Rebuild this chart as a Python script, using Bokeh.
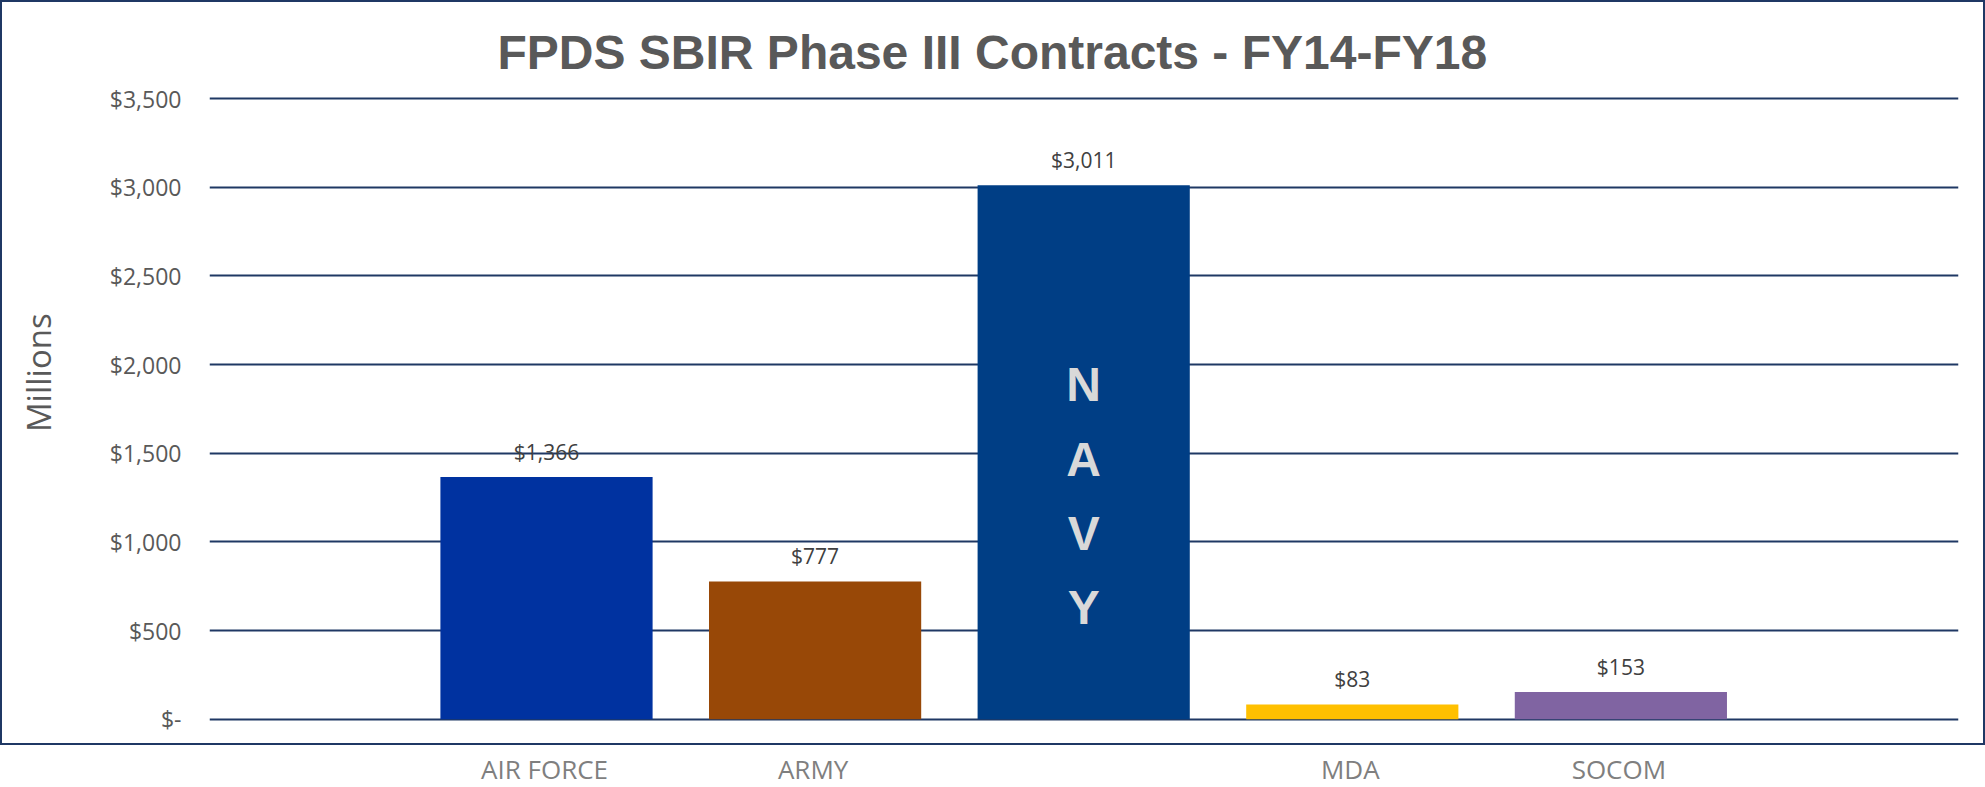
from bokeh.plotting import figure
from bokeh.models import Range1d, FixedTicker, NumeralTickFormatter, ColumnDataSource, LinearAxis
from bokeh.layouts import column
from bokeh.core.properties import value
from bokeh.embed import file_html
from bokeh.resources import INLINE

# ---- data ----
categories = ["AIR FORCE", "ARMY", "NAVY", "MDA", "SOCOM"]
amounts = [1366, 777, 3011, 83, 153]
bar_colors = ["#0032A0", "#984807", "#003E85", "#FFC000", "#8064A2"]
y_ticks = [0, 500, 1000, 1500, 2000, 2500, 3000, 3500]
title_text = "FPDS SBIR Phase III Contracts - FY14-FY18"
y_label = "Millions"
inside_label_category = "NAVY"

xs = list(range(len(categories)))
src = ColumnDataSource(dict(
    x=xs, top=amounts, color=bar_colors,
    label=["${:,}".format(v) for v in amounts],
))

BORDER = 2
W_OUT = 1985
W, H = W_OUT - 2 * BORDER, 741
ML, MR, MT, MB = 205, 27, 86, 22
X0, X1 = -1.2547, 5.257
Y0, Y1 = -35.5, 3556.4
XR = Range1d(X0, X1)

p = figure(width=W, height=H, output_backend="svg", toolbar_location=None,
           x_range=XR, y_range=Range1d(Y0, Y1),
           min_border_left=ML, min_border_right=MR, min_border_top=MT, min_border_bottom=MB,
           title=title_text)
p.background_fill_color = "white"
p.border_fill_color = "white"
p.outline_line_color = None
p.styles = {"border": f"{BORDER}px solid #1F3864", "box-sizing": "content-box"}

# title
p.title.text_font = "Liberation Sans"
p.title.text_font_size = "48px"
p.title.text_font_style = "bold"
p.title.text_color = "#595959"
p.title.align = "left"
p.title.offset = 288
p.title.standoff = 19

# grid
p.xgrid.grid_line_color = None
p.ygrid.ticker = FixedTicker(ticks=y_ticks)
p.ygrid.grid_line_color = "#1F3864"
p.ygrid.grid_line_width = 2

# y axis (tick labels)
ya = p.yaxis[0]
ya.ticker = FixedTicker(ticks=y_ticks)
ya.formatter = NumeralTickFormatter(format="$0,0")
ya.major_label_overrides = {0: "$-"}
ya.axis_line_color = None
ya.major_tick_line_color = None
ya.minor_tick_line_color = None
ya.major_tick_out = 0
ya.minor_tick_out = 0
ya.major_label_text_font = "Open Sans"
ya.major_label_text_font_size = "23px"
ya.major_label_text_color = "#595959"
ya.major_label_standoff = 28

# y axis title on a tick-less outer axis; leading no-break spaces lift it
# above the frame centre, as in the reference
p.extra_y_ranges = {"ylabel": Range1d(0, 1)}
lab_axis = LinearAxis(y_range_name="ylabel", ticker=FixedTicker(ticks=[]),
                      axis_label="\u00a0" * 8 + y_label)
lab_axis.axis_line_color = None
lab_axis.major_tick_line_color = None
lab_axis.minor_tick_line_color = None
lab_axis.major_tick_out = 0
lab_axis.minor_tick_out = 0
lab_axis.major_label_text_font_size = "0px"
lab_axis.axis_label_text_font = "Open Sans"
lab_axis.axis_label_text_font_size = "33px"
lab_axis.axis_label_text_font_style = "normal"
lab_axis.axis_label_text_color = "#595959"
lab_axis.axis_label_standoff = 46
p.add_layout(lab_axis, "left")

p.xaxis.visible = False

# bars
p.vbar(x="x", top="top", width=0.79, bottom=0, color="color", line_color=None, source=src)

# value labels
p.text(x="x", y="top", text="label", source=src, text_align="center", text_baseline="alphabetic",
       y_offset=-25, text_font=value("Open Sans"), text_font_size="21px", text_color="#404040")

# vertical category label inside the tall bar
ni = categories.index(inside_label_category)
p.text(x=[xs[ni]], y=[amounts[ni] * 0.4175], text=["\n".join(inside_label_category)],
       text_align="center", text_baseline="middle", text_line_height=1.405,
       text_font=value("Liberation Sans"), text_font_style="bold", text_font_size="48px",
       text_color="#D9D9D9")

# category labels below the bordered chart box
p2 = figure(width=W_OUT, height=787 - (H + 2 * BORDER), output_backend="svg", toolbar_location=None,
            x_range=XR, y_range=Range1d(0, 1), x_axis_location="above",
            min_border_left=ML + BORDER, min_border_right=MR + BORDER,
            min_border_top=41, min_border_bottom=0)
p2.outline_line_color = None
p2.grid.grid_line_color = None
p2.yaxis.visible = False
p2.border_fill_color = "white"
p2.background_fill_color = "white"
xa = p2.xaxis[0]
xa.ticker = FixedTicker(ticks=xs)
xa.major_label_overrides = {i: ("" if c == inside_label_category else c) for i, c in zip(xs, categories)}
xa.axis_line_color = None
xa.major_tick_line_color = None
xa.minor_tick_line_color = None
xa.major_tick_out = 0
xa.major_tick_in = 0
xa.major_label_text_font = "Open Sans"
xa.major_label_text_font_size = "26px"
xa.major_label_text_color = "#7F7F7F"
xa.major_label_standoff = 0

layout = column(p, p2, spacing=0)
open("out.html", "w").write(file_html(layout, INLINE))
